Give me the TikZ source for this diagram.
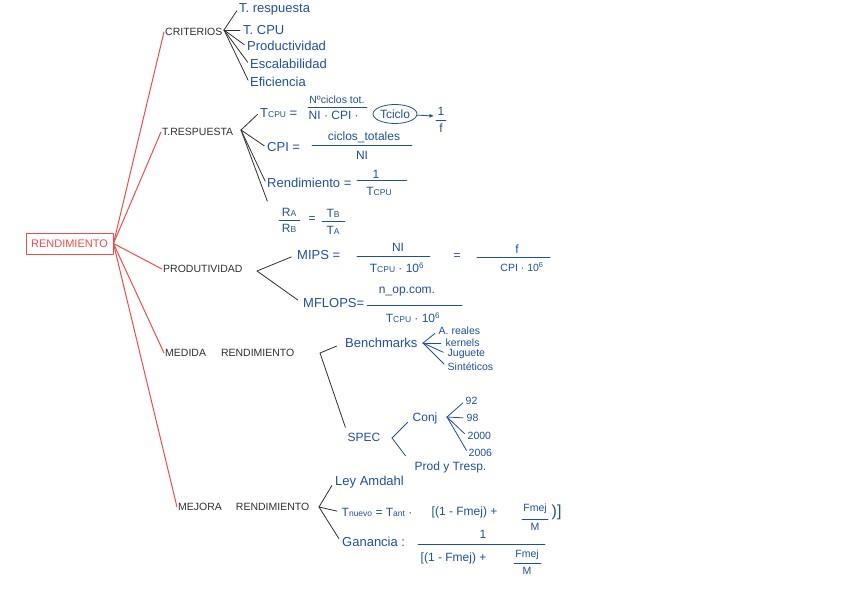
\documentclass[tikz,border=0pt]{standalone}
\usepackage{fontspec}
\setmainfont{Liberation Sans}
\usetikzlibrary{arrows.meta,shapes.geometric}
\definecolor{mapred}{HTML}{EE4B4B}
\definecolor{inkblue}{HTML}{1F4F9E}
\definecolor{inkblack}{HTML}{303030}
\newcommand{\inksub}[1]{{\fontsize{8.5}{10}\selectfont #1}}

\begin{document}
\begin{tikzpicture}[
  x={(1pt,0pt)},
  y={(0pt,-1pt)},
  line join=round,
  line cap=round,
  root/.style={draw=mapred,line width=0.9pt,text=mapred,font=\fontsize{11}{13}\selectfont,minimum width=87pt,minimum height=21pt,inner sep=0pt},
  topic/.style={anchor=west,text=inkblack,font=\fontsize{10.5}{12}\selectfont,inner sep=1pt},
  branch/.style={draw=mapred,line width=1pt},
  fan/.style={draw=inkblack,line width=0.8pt,shorten >=2pt},
  inkfan/.style={draw=inkblue,line width=0.8pt,shorten >=2pt},
  item/.style={anchor=west,text=inkblue,font=\fontsize{13}{15}\selectfont,inner sep=1pt},
  eqtext/.style={text=inkblue,font=\fontsize{12}{14}\selectfont,inner sep=0.5pt},
  eqsmall/.style={text=inkblue,font=\fontsize{10.5}{12}\selectfont,inner sep=0.5pt},
  bar/.style={draw=inkblue,line width=0.8pt},
  inkarrow/.style={draw=inkblue,line width=0.8pt,-{Latex[length=1.6mm,width=1.4mm]}}
]
  \useasboundingbox (0,0) rectangle (848,599);

  % Root and the red main branches.
  \node[root] (rend) at (69.5,243.5) {RENDIMIENTO};
  \node[topic] (crit) at (164,32) {CRITERIOS};
  \node[topic] (tresp) at (161,132) {T.RESPUESTA};
  \node[topic] (prod) at (162,269) {PRODUTIVIDAD};
  \node[topic] (medida) at (164,353) {MEDIDA\hspace{15pt}RENDIMIENTO};
  \node[topic] (mejora) at (177,507) {MEJORA\hspace{14pt}RENDIMIENTO};
  \foreach \t in {crit,tresp,prod,medida,mejora} {
    \draw[branch] (rend.east) -- (\t.west);
  }

  % Criterios.
  \coordinate (critfan) at (224,30);
  \node[item] (crresp) at (238,9) {T. respuesta};
  \node[item] (crcpu) at (242,30) {T. CPU};
  \node[item] (crprod) at (246,46) {Productividad};
  \node[item] (crescal) at (249,64) {Escalabilidad};
  \node[item] (crefic) at (249,82) {Eficiencia};
  \foreach \c in {crresp,crcpu,crprod,crescal,crefic} {
    \draw[fan] (critfan) -- (\c.west);
  }

  % T. respuesta: Tcpu, CPI, rendimiento, ratio.
  \coordinate (trfan) at (241,130);
  \node[item] (tcpu) at (259,113) {T\inksub{CPU} =};
  \node[eqsmall] (tcnum) at (337,100) {Nºciclos tot.};
  \node[eqtext,anchor=west] (tcden) at (308,115) {NI · CPI ·};
  \node[eqtext,ellipse,draw=inkblue,line width=0.8pt,inner sep=0.5pt,minimum width=44pt,minimum height=19pt] (tciclo) at (395,114) {Tciclo};
  \coordinate (fracf) at (434,116);
  \node[eqtext] (tcone) at (441,111) {1};
  \node[eqtext] (tcf) at (441,128) {f};
  \draw[bar] (308,107) -- (367,107);
  \draw[bar] (436,120) -- (446,120);
  \draw[inkarrow] (tciclo) -- (fracf);

  \node[item] (cpi) at (266,147) {CPI =};
  \node[eqtext] (cpinum) at (364,137) {ciclos\_totales};
  \node[eqtext] (cpiden) at (362,155) {NI};
  \draw[bar] (312,145) -- (412,145);

  \node[item] (rendf) at (266,183) {Rendimiento =};
  \node[eqtext] (rfnum) at (376,174) {1};
  \node[eqtext] (rfden) at (379,191) {T\inksub{CPU}};
  \draw[bar] (357,180) -- (407,180);

  \coordinate (ratio) at (268,203);
  \node[eqtext] (ratra) at (289,212) {R\inksub{A}};
  \node[eqtext] (ratrb) at (289,228) {R\inksub{B}};
  \node[eqtext] (rateq) at (312,220) {=};
  \node[eqtext] (rattb) at (333,213) {T\inksub{B}};
  \node[eqtext] (ratta) at (333,230) {T\inksub{A}};
  \draw[bar] (279,220) -- (300,220);
  \draw[bar] (322,221) -- (345,221);

  \foreach \c in {tcpu.west,cpi.west,rendf.west,ratio} {
    \draw[fan] (trfan) -- (\c);
  }

  % Produtividad: MIPS and MFLOPS.
  \coordinate (prodfan) at (257,271);
  \node[item] (mips) at (296,255) {MIPS =};
  \node[eqtext] (mipsnum) at (398,247) {NI};
  \node[eqtext] (mipsden) at (397,268) {T\inksub{CPU} · 10\textsuperscript{6}};
  \node[eqtext] (mipseq) at (457,257) {=};
  \node[eqtext] (mipsf) at (517,249) {f};
  \node[eqsmall] (mipscpi) at (522,267) {CPI · 10\textsuperscript{6}};
  \draw[bar] (357,256) -- (430,256);
  \draw[bar] (477,257) -- (550,257);

  \node[item] (mflops) at (302,303) {MFLOPS=};
  \node[eqtext] (mfnum) at (407,292) {n\_op.com.};
  \node[eqtext] (mfden) at (413,318) {T\inksub{CPU} · 10\textsuperscript{6}};
  \draw[bar] (367,305) -- (462,305);

  \foreach \c in {mips,mflops} {
    \draw[fan,shorten >=5pt] (prodfan) -- (\c.west);
  }

  % Medida rendimiento: benchmarks and SPEC.
  \coordinate (medfan) at (320,353);
  \node[item] (bench) at (344,343) {Benchmarks};
  \node[eqtext,anchor=west] (spec) at (347,437) {SPEC};
  \draw[fan,shorten >=8pt] (medfan) -- (bench.west);
  \draw[fan,shorten >=5pt] (medfan) -- (spec.north west);

  \coordinate (benchfan) at (423,343);
  \node[eqsmall,anchor=west] (bereal) at (438,331) {A. reales};
  \node[eqsmall,anchor=west] (bekern) at (445,343) {kernels};
  \node[eqsmall,anchor=west] (bejug) at (447,354) {Juguete};
  \node[eqsmall,anchor=west] (besint) at (447,367) {Sintéticos};
  \foreach \c in {bereal,bekern,bejug,besint} {
    \draw[inkfan,shorten >=4pt] (benchfan) -- (\c.west);
  }

  \coordinate (specfan) at (392,438);
  \node[eqtext,anchor=west] (conj) at (412,418) {Conj};
  \node[eqtext,anchor=west] (prodtr) at (414,467) {Prod y Tresp.};
  \draw[inkfan,shorten >=6pt] (specfan) -- (conj.west);
  \draw[inkfan,shorten >=14pt] (specfan) -- (prodtr.west);

  \coordinate (conjfan) at (447,417);
  \node[eqsmall,anchor=west] (y92) at (465,401) {92};
  \node[eqsmall,anchor=west] (y98) at (466,418) {98};
  \node[eqsmall,anchor=west] (y2000) at (467,436) {2000};
  \node[eqsmall,anchor=west] (y2006) at (468,453) {2006};
  \foreach \c in {y92,y98,y2000,y2006} {
    \draw[inkfan,shorten >=3pt] (conjfan) -- (\c.west);
  }

  % Mejora rendimiento: Amdahl.
  \coordinate (mejfan) at (319,507);
  \node[item] (ley) at (334,482) {Ley Amdahl};
  \node[eqtext,anchor=west] (tnuevo) at (341,512) {T\inksub{nuevo} = T\inksub{ant} ·};
  \node[eqtext,anchor=west] (tnpar) at (431,512) {[(1 - Fmej) +};
  \node[eqsmall] (tnfm) at (535,509) {Fmej};
  \node[eqsmall] (tnm) at (535,527) {M};
  \node[eqtext,anchor=west,font=\fontsize{16}{18}\selectfont] (tnclose) at (551,512) {)]};
  \draw[bar] (522,519) -- (548,519);

  \node[item] (gan) at (341,542) {Ganancia :};
  \node[eqtext] (gannum) at (483,534) {1};
  \node[eqtext,anchor=west] (ganpar) at (420,558) {[(1 - Fmej) +};
  \node[eqsmall] (ganfm) at (527,555) {Fmej};
  \node[eqsmall] (ganm) at (527,571) {M};
  \draw[bar] (418,544) -- (545,544);
  \draw[bar] (514,563) -- (541,563);

  \foreach \c in {ley,tnuevo,gan} {
    \draw[fan,shorten >=4pt] (mejfan) -- (\c.west);
  }
\end{tikzpicture}
\end{document}
